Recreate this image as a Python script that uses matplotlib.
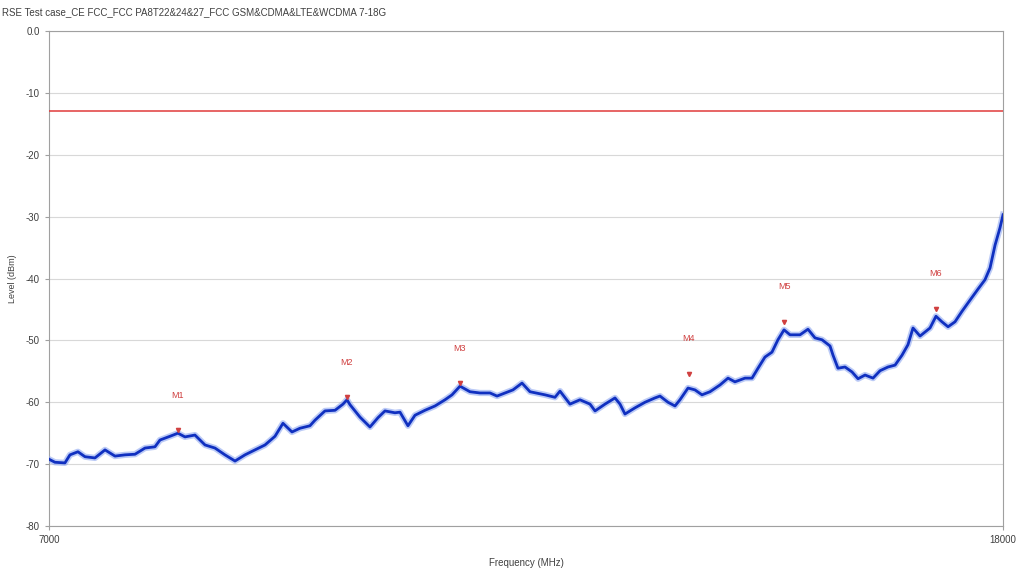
import matplotlib
matplotlib.use("Agg")
import matplotlib.pyplot as plt

# trace (MHz, dBm)
freq = [7000, 7069, 7184, 7242, 7334, 7415, 7530, 7646, 7761, 7876,
        7992, 8107, 8222, 8280, 8395, 8487, 8568, 8683, 8799, 8914,
        9029, 9145, 9260, 9375, 9491, 9606, 9698, 9802, 9894, 10009,
        10067, 10182, 10298, 10390, 10436, 10471, 10586, 10701, 10793, 10874,
        10989, 11047, 11139, 11220, 11335, 11451, 11566, 11647, 11739, 11854,
        11969, 12085, 12166, 12258, 12350, 12454, 12546, 12719, 12834, 12892,
        13007, 13122, 13238, 13296, 13411, 13526, 13584, 13641, 13757, 13872,
        13987, 14045, 14137, 14218, 14275, 14368, 14448, 14529, 14621, 14737,
        14829, 14909, 15025, 15106, 15175, 15255, 15336, 15405, 15475, 15544,
        15659, 15751, 15832, 15913, 16005, 16040, 16097, 16178, 16259, 16328,
        16409, 16501, 16582, 16674, 16755, 16835, 16904, 16962, 17043, 17158,
        17227, 17296, 17366, 17446, 17527, 17619, 17712, 17792, 17850, 17908,
        17965, 18000]
level = [-69.2, -69.7, -69.8, -68.5, -68.0, -68.8, -69.0, -67.7, -68.7, -68.5,
         -68.4, -67.4, -67.2, -66.1, -65.5, -65.0, -65.6, -65.3, -66.9, -67.4,
         -68.5, -69.5, -68.5, -67.7, -66.9, -65.5, -63.4, -64.8, -64.2, -63.8,
         -62.9, -61.4, -61.3, -60.3, -59.6, -60.4, -62.4, -64.0, -62.5, -61.4,
         -61.7, -61.6, -63.8, -62.1, -61.3, -60.6, -59.6, -58.8, -57.4, -58.3,
         -58.5, -58.5, -59.0, -58.5, -58.0, -56.9, -58.3, -58.8, -59.2, -58.2,
         -60.3, -59.6, -60.3, -61.4, -60.3, -59.3, -60.3, -61.9, -60.9, -60.0,
         -59.3, -59.0, -60.0, -60.6, -59.6, -57.7, -58.0, -58.8, -58.3, -57.2,
         -56.1, -56.7, -56.1, -56.1, -54.5, -52.7, -51.9, -49.9, -48.3, -49.1,
         -49.1, -48.2, -49.6, -49.9, -50.9, -52.4, -54.5, -54.3, -55.1, -56.2,
         -55.6, -56.1, -54.9, -54.3, -54.0, -52.4, -50.7, -48.0, -49.3, -48.0,
         -46.1, -47.0, -47.8, -47.0, -45.3, -43.5, -41.7, -40.2, -38.3, -34.6,
         -31.8, -29.7]

limit = -13.0

marker_names = ["M1", "M2", "M3", "M4", "M5", "M6"]
marker_freq = [8487, 10436, 11739, 14379, 15475, 17227]
marker_level = [-64.5, -59.2, -56.9, -55.4, -47.0, -44.9]

title = "RSE Test case_CE FCC_FCC PA8T22&24&27_FCC GSM&CDMA&LTE&WCDMA 7-18G"

plt.rcParams["font.family"] = ["Liberation Sans", "DejaVu Sans"]
fig = plt.figure(figsize=(10.18, 5.72), dpi=100)
ax = fig.add_axes([0.0481, 0.0804, 0.9372, 0.8654])

ax.axhline(limit, color="#e03a3a", lw=1.1, zorder=3)
ax.plot(freq, level, color="#8fa8f0", lw=4.5, alpha=0.6, zorder=4)
ax.plot(freq, level, color="#1030c0", lw=2, zorder=5)

for name, f, l in zip(marker_names, marker_freq, marker_level):
    ax.plot(f, l, marker="v", color="#d04040", ms=3, zorder=6)
    ax.annotate(name, (f, l), xytext=(0, 22), textcoords="offset points",
                ha="center", va="bottom", color="#d04040", fontsize=6.5)

ax.set_xlim(7000, 18000)
ax.set_ylim(-80, 0)
ax.set_xticks([7000, 18000])
ax.set_yticks(range(0, -81, -10))
ax.set_yticklabels(["0.0"] + [str(v) for v in range(-10, -81, -10)])
ax.grid(axis="y", color="#d8d8d8", lw=0.8)
for s in ax.spines.values():
    s.set_color("#a0a0a0")
ax.tick_params(colors="#a0a0a0", labelcolor="#404040", labelsize=7, length=3)
ax.set_xlabel("Frequency (MHz)", fontsize=7, color="#404040", labelpad=9)
ax.set_ylabel("Level (dBm)", fontsize=6.5, color="#404040", labelpad=6)
fig.text(0.002, 0.988, title, fontsize=7, color="#404040", va="top")

fig.savefig("out.png", dpi=100, facecolor="white")
